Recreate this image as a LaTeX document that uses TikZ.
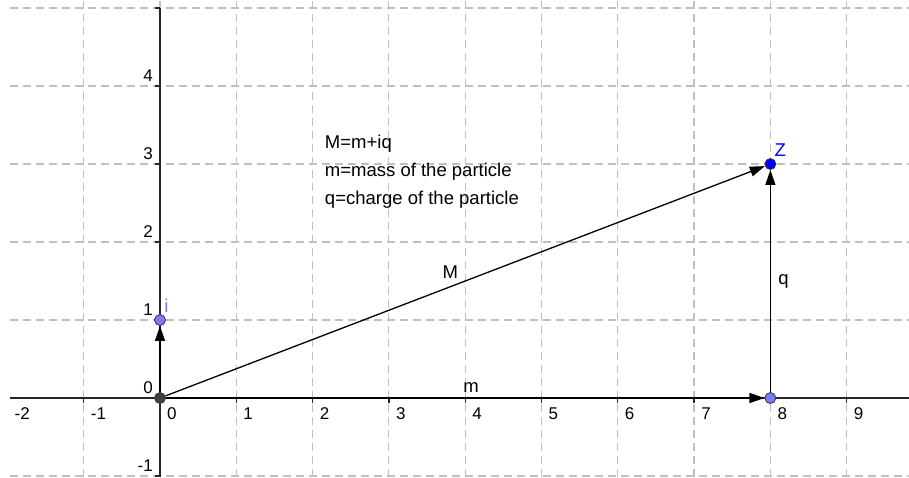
\documentclass[tikz,border=0pt]{standalone}
\usepackage{fontspec}
\setmainfont{Liberation Sans}
\usetikzlibrary{arrows.meta}

\definecolor{ptlight}{RGB}{122,122,255}
\definecolor{ptblue}{RGB}{0,0,255}
\definecolor{ptdark}{RGB}{64,64,64}
\definecolor{gridgray}{RGB}{192,192,192}

\tikzset{
  grid line/.style={gridgray,line width=1.2pt,dash pattern=on 8pt off 5pt},
  axis line/.style={black!85,line width=1.3pt},
  vec/.style={->,line width=1.3pt,black},
  pt/.style={circle,draw=black!80,line width=0.8pt,inner sep=0pt,minimum size=11pt},
  num/.style={font=\fontsize{17}{20}\selectfont,inner sep=0pt},
}

\begin{document}
\begin{tikzpicture}[x=76.3pt,y=78pt,>={Triangle[length=15pt,width=10pt]},every node/.style={font=\fontsize{18.5}{22}\selectfont}]
  \useasboundingbox (-2.097,-1.013) rectangle (9.817,5.103);
  % grid
  \foreach \i in {-1,...,9} \draw[grid line] (\i,-1.013) -- (\i,5.103);
  \foreach \j in {-1,...,5} \draw[grid line] (-1.97,\j) -- (9.817,\j);
  % axes
  \draw[axis line] (-1.97,0) -- (9.817,0);
  \draw[axis line] (0,-1.013) -- (0,5);
  \foreach \i in {-1,...,9} \draw[axis line] (\i,0) -- ++(0,-5pt);
  \foreach \j in {-1,...,5} \draw[axis line] (0,\j) -- ++(-5pt,0);
  \foreach \i in {-2,...,9} \node[num,anchor=west,xshift=7pt,yshift=-16pt] at (\i,0) {\i};
  \foreach \j in {-1,...,4} \node[num,anchor=east,xshift=-7pt,yshift=10pt] at (0,\j) {\j};
  % points
  \node[pt,fill=ptdark] (O) at (0,0) {};
  \node[pt,fill=ptlight] (I) at (0,1) {};
  \node[pt,fill=ptlight] (A) at (8,0) {};
  \node[pt,fill=ptblue] (Z) at (8,3) {};
  \node[ptlight,anchor=south west,inner sep=0pt,yshift=3pt] at (I.north east) {i};
  \node[ptblue,anchor=south west,inner sep=0pt,yshift=3pt] at (Z.north east) {Z};
  % vectors
  \draw[vec] (O) -- (I);
  \draw[vec] (O) -- (Z) node[pos=0.475,above=4pt] {M};
  \draw[vec] (O) -- (A) node[pos=0.51,above=2pt] {m};
  \draw[vec] (A) -- (Z) node[midway,right=4pt] {q};
  % notes
  \node[anchor=base west,inner sep=0pt] (n1) at (2.16,3.205) {M=m+iq};
  \node[anchor=base west,inner sep=0pt] (n2) at (2.16,2.846) {m=mass of the particle};
  \node[anchor=base west,inner sep=0pt] (n3) at (2.16,2.487) {q=charge of the particle};
\end{tikzpicture}
\end{document}
